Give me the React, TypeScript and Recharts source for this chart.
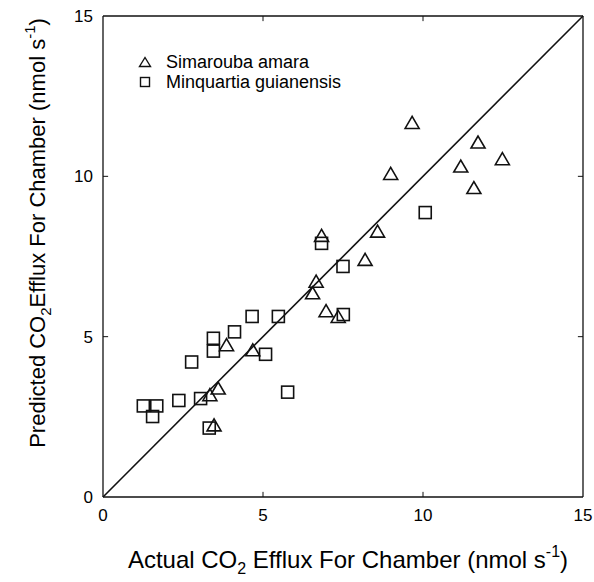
import { ScatterChart, Scatter, XAxis, YAxis, ReferenceLine, Legend, Label } from "recharts";

const axisTicks = [0, 5, 10, 15];
const innerTicks = [5, 10];

// Simarouba amara (triangles)
const simaroubaActual = [3.47, 3.34, 3.6, 3.86, 4.68, 6.55, 6.66, 6.83, 6.97, 7.35, 8.19, 8.58, 8.99, 9.66, 11.18, 11.59, 11.72, 12.48];
const simaroubaPredicted = [2.25, 3.19, 3.4, 4.75, 4.59, 6.37, 6.73, 8.16, 5.81, 5.63, 7.41, 8.29, 10.09, 11.68, 10.32, 9.65, 11.07, 10.55];

// Minquartia guianensis (squares)
const minquartiaActual = [1.26, 1.55, 1.68, 2.37, 2.77, 3.05, 3.32, 3.45, 3.45, 4.11, 4.66, 5.08, 5.48, 5.77, 6.83, 7.5, 7.51, 10.07];
const minquartiaPredicted = [2.84, 2.51, 2.84, 3.01, 4.21, 3.07, 2.15, 4.55, 4.95, 5.15, 5.63, 4.45, 5.63, 3.27, 7.91, 7.19, 5.69, 8.87];

const FONT = "'Liberation Sans', Arial, Helvetica, sans-serif";
const INK = "#111";
const TICK_LEN = 0.16;

const zip = (xs: number[], ys: number[]) => xs.map((x, i) => ({ x, y: ys[i] }));
const simarouba = zip(simaroubaActual, simaroubaPredicted);
const minquartia = zip(minquartiaActual, minquartiaPredicted);

function Triangle({ cx, cy }: any) {
  return (
    <path
      d={`M${cx},${cy - 6}L${cx - 7},${cy + 6}L${cx + 7},${cy + 6}Z`}
      fill="none"
      stroke={INK}
      strokeWidth={1.6}
    />
  );
}

function Square({ cx, cy }: any) {
  return <rect x={cx - 6} y={cy - 6} width={12} height={12} fill="none" stroke={INK} strokeWidth={1.6} />;
}

function LegendBox() {
  const row = { display: "flex", alignItems: "center", height: 20 } as const;
  return (
    <div style={{ fontFamily: FONT, fontSize: 18, color: "#000", lineHeight: "20px" }}>
      <div style={row}>
        <svg width={14} height={12} style={{ marginRight: 14 }}>
          <path d="M7,1.5L1.5,10.5L12.5,10.5Z" fill="none" stroke={INK} strokeWidth={1.4} />
        </svg>
        <span>Simarouba amara</span>
      </div>
      <div style={row}>
        <svg width={14} height={12} style={{ marginRight: 14 }}>
          <rect x={2.5} y={1.5} width={9} height={9} fill="none" stroke={INK} strokeWidth={1.4} />
        </svg>
        <span>Minquartia guianensis</span>
      </div>
    </div>
  );
}

function XTitle() {
  return (
    <text x={348} y={568} textAnchor="middle" fontFamily={FONT} fontSize={24} fill="#000">
      Actual CO
      <tspan dy={6} fontSize={16}>2</tspan>
      <tspan dy={-6}> Efflux For Chamber (nmol s</tspan>
      <tspan dy={-11} fontSize={16}>-1</tspan>
      <tspan dy={11}>)</tspan>
    </text>
  );
}

function YTitle() {
  return (
    <text x={0} y={0} transform="translate(45,233) rotate(-90)" textAnchor="middle" fontFamily={FONT} fontSize={22} fill="#000">
      Predicted CO
      <tspan dy={6} fontSize={15}>2</tspan>
      <tspan dy={-6}>Efflux For Chamber (nmol s</tspan>
      <tspan dy={-10} fontSize={15}>-1</tspan>
      <tspan dy={10}>)</tspan>
    </text>
  );
}

export default function App() {
  const tickStyle = { fontSize: 17, fill: "#000", fontFamily: FONT };
  return (
    <div style={{ position: "absolute", left: 0, top: 0, width: 594, height: 582, background: "#fff" }}>
      <ScatterChart width={594} height={582} margin={{ top: 16, right: 11, bottom: 0, left: 0 }}>
        <XAxis
          type="number"
          dataKey="x"
          domain={[0, 15]}
          ticks={axisTicks}
          tickSize={0}
          tickMargin={12}
          height={85}
          tick={tickStyle}
          axisLine={{ stroke: INK, strokeWidth: 1.3 }}
        >
          <Label content={<XTitle />} />
        </XAxis>
        <YAxis
          type="number"
          dataKey="y"
          domain={[0, 15]}
          ticks={axisTicks}
          tickSize={0}
          tickMargin={10}
          width={103}
          tick={tickStyle}
          axisLine={{ stroke: INK, strokeWidth: 1.3 }}
        >
          <Label content={<YTitle />} />
        </YAxis>
        <ReferenceLine y={15} stroke={INK} strokeWidth={1.3} />
        <ReferenceLine x={15} stroke={INK} strokeWidth={1.3} />
        {innerTicks.map((t) => (
          <ReferenceLine key={`b${t}`} segment={[{ x: t, y: 0 }, { x: t, y: TICK_LEN }]} stroke={INK} strokeWidth={1} />
        ))}
        {innerTicks.map((t) => (
          <ReferenceLine key={`t${t}`} segment={[{ x: t, y: 15 }, { x: t, y: 15 - TICK_LEN }]} stroke={INK} strokeWidth={1} />
        ))}
        {innerTicks.map((t) => (
          <ReferenceLine key={`l${t}`} segment={[{ x: 0, y: t }, { x: TICK_LEN, y: t }]} stroke={INK} strokeWidth={1} />
        ))}
        {innerTicks.map((t) => (
          <ReferenceLine key={`r${t}`} segment={[{ x: 15, y: t }, { x: 15 - TICK_LEN, y: t }]} stroke={INK} strokeWidth={1} />
        ))}
        <ReferenceLine segment={[{ x: 0, y: 0 }, { x: 15, y: 15 }]} stroke={INK} strokeWidth={1.6} />
        <Scatter name="Simarouba amara" data={simarouba} shape={<Triangle />} isAnimationActive={false} />
        <Scatter name="Minquartia guianensis" data={minquartia} shape={<Square />} isAnimationActive={false} />
        <Legend
          layout="vertical"
          align="center"
          verticalAlign="middle"
          content={<LegendBox />}
          wrapperStyle={{ left: 138, top: 52, width: "auto", height: "auto" }}
        />
      </ScatterChart>
    </div>
  );
}
